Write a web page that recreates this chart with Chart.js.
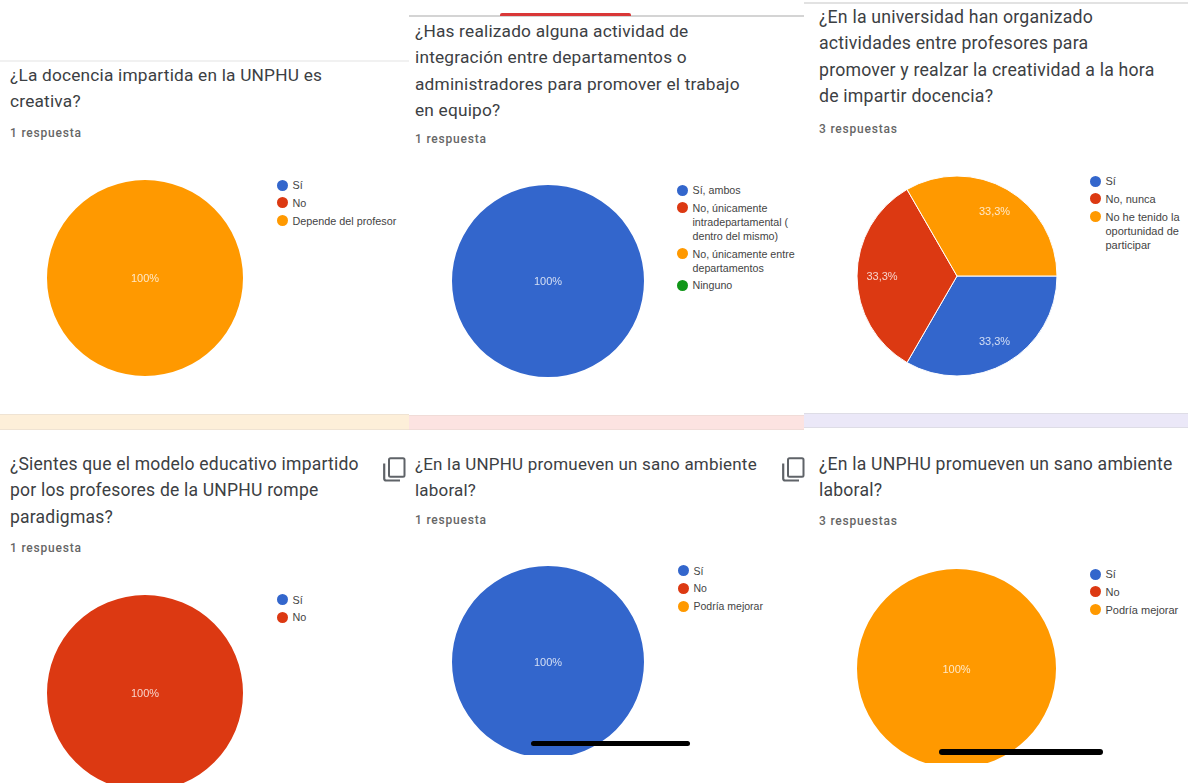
<!DOCTYPE html>
<html lang="es">
<head>
<meta charset="utf-8">
<title>Respuestas UNPHU</title>
<script src="https://cdn.jsdelivr.net/npm/chart.js@4"></script>
<style>
    html, body { margin: 0; padding: 0; background: #fff; overflow: hidden; }
    #page { position: relative; width: 1188px; height: 783px; overflow: hidden; background: #fff; }
    #page > * { position: absolute; }
    .titulo { font: 400 17.6px/26.3px Roboto, sans-serif; color: #3c4043; white-space: pre-line; letter-spacing: 0.2px; }
    .respuestas { font: 500 12px/16px Roboto, sans-serif; color: #666; letter-spacing: 0.8px; }
    .leyenda { font: 400 10.8px/14px "Liberation Sans", Arial, sans-serif; color: #444; }
    .leyenda div { position: relative; padding-left: 16px; margin-bottom: 3.8px; white-space: pre-line; }
    .leyenda i { position: absolute; left: 0; top: 1.5px; width: 11px; height: 11px; border-radius: 50%; }
    .pastel { overflow: hidden; }
    .pastel canvas { display: block; }
    .franja { box-sizing: border-box; border-top: 1px solid; border-bottom: 1px solid; }
    .barra { background: #000; border-radius: 3px; height: 5px; }
</style>
</head>
<body>
<div id="page"></div>
<script>
const azul = '#3366cc', rojo = '#dc3912', naranja = '#ff9900', verde = '#109618';

const preguntas = [
    '¿La docencia impartida en la UNPHU es\ncreativa?',
    '¿Has realizado alguna actividad de\nintegración entre departamentos o\nadministradores para promover el trabajo\nen equipo?',
    '¿En la universidad han organizado\nactividades entre profesores para\npromover y realzar la creatividad a la hora\nde impartir docencia?',
    '¿Sientes que el modelo educativo impartido\npor los profesores de la UNPHU rompe\nparadigmas?',
    '¿En la UNPHU promueven un sano ambiente\nlaboral?',
    '¿En la UNPHU promueven un sano ambiente\nlaboral?'
];
const respuestas = ['1 respuesta', '1 respuesta', '3 respuestas', '1 respuesta', '1 respuesta', '3 respuestas'];

const opciones = [
    ['Sí', 'No', 'Depende del profesor'],
    ['Sí, ambos', 'No, únicamente\nintradepartamental (\ndentro del mismo)', 'No, únicamente entre\ndepartamentos', 'Ninguno'],
    ['Sí', 'No, nunca', 'No he tenido la\noportunidad de\nparticipar'],
    ['Sí', 'No'],
    ['Sí', 'No', 'Podría mejorar'],
    ['Sí', 'No', 'Podría mejorar']
];
const valores = [
    [0, 0, 1],
    [1, 0, 0, 0],
    [1, 1, 1],
    [0, 1],
    [1, 0, 0],
    [0, 0, 1]
];
const colores = [azul, rojo, naranja, verde];

// posicion de cada bloque: texto, centro del pastel, radio, corte inferior y leyenda
const bloques = [
    { x: 10,  y: 62, ry: 125, fs: 17.3, cx: 145, cy: 278,   r: 98,  clip: 783, lx: 276.5, ly: 178, ls: 10.8 },
    { x: 415, y: 18, ry: 131, fs: 17.3, cx: 548, cy: 281,   r: 96,  clip: 783, lx: 676.5, ly: 183, ls: 10.7 },
    { x: 819, y: 4,  ry: 121, fs: 17.7, cx: 956.5, cy: 275.5, r: 100, clip: 783, lx: 1089.5, ly: 174, ls: 11 },
    { x: 10,  y: 451, ry: 540, fs: 17.55, cx: 145, cy: 693, r: 98,  clip: 783, lx: 276.5, ly: 592.5, ls: 10.8 },
    { x: 415, y: 451, ry: 512, fs: 17,  cx: 548, cy: 662,   r: 96,  clip: 755, lx: 677.5, ly: 563.5, ls: 10.5 },
    { x: 819, y: 451, ry: 513, fs: 17.6, cx: 956.5, cy: 668.5, r: 99.5, clip: 763, lx: 1089.5, ly: 567, ls: 11 }
];

const page = document.getElementById('page');

function caja(clase, css, texto) {
    const el = document.createElement('div');
    el.className = clase;
    Object.assign(el.style, css);
    if (texto) el.textContent = texto;
    page.appendChild(el);
    return el;
}

// lineas y franjas de las tarjetas del formulario
caja('', { left: '0', top: '60px', width: '409px', height: '2px', background: '#f1f1f1' });
caja('', { left: '409px', top: '15px', width: '395px', height: '2px', background: '#d4d4d4' });
caja('', { left: '500px', top: '13px', width: '131px', height: '3px', background: '#d93737', borderRadius: '2px 2px 0 0' });
caja('', { left: '804px', top: '2px', width: '384px', height: '2px', background: '#e2e2e2' });
caja('franja', { left: '0', top: '414px', width: '409px', height: '16px', background: '#fdefd9', borderColor: '#efe3d3' });
caja('franja', { left: '409px', top: '415px', width: '395px', height: '15px', background: '#fce3e1', borderColor: '#f0dcd8' });
caja('franja', { left: '804px', top: '413px', width: '384px', height: '15px', background: '#ebe8f8', borderColor: '#dedde6' });

// etiqueta de porcentaje dentro de cada porcion
const porcentajes = {
    id: 'porcentajes',
    afterDatasetsDraw(chart) {
        const { ctx } = chart;
        const datos = chart.data.datasets[0].data;
        const total = datos.reduce((a, b) => a + b, 0);
        ctx.save();
        ctx.font = '11px "Liberation Sans", Arial, sans-serif';
        ctx.fillStyle = 'rgba(255,255,255,0.78)';
        ctx.textAlign = 'center';
        ctx.textBaseline = 'middle';
        chart.getDatasetMeta(0).data.forEach((arco, i) => {
            if (!datos[i]) return;
            const { x, y, startAngle, endAngle, outerRadius } = arco.getProps(['x', 'y', 'startAngle', 'endAngle', 'outerRadius']);
            if (datos[i] === total) {
                ctx.fillText('100%', x, y + 1);
            } else {
                const medio = (startAngle + endAngle) / 2;
                const texto = (datos[i] / total * 100).toFixed(1).replace('.', ',') + '%';
                ctx.fillText(texto, x + Math.cos(medio) * outerRadius * 0.75, y + 1 + Math.sin(medio) * outerRadius * 0.75);
            }
        });
        ctx.restore();
    }
};

bloques.forEach((b, n) => {
    caja('titulo', { left: b.x + 'px', top: b.y + 'px', fontSize: b.fs + 'px' }, preguntas[n]);
    caja('respuestas', { left: b.x + 'px', top: b.ry + 'px' }, respuestas[n]);

    const leyenda = caja('leyenda', { left: b.lx + 'px', top: b.ly + 'px', width: '125px', fontSize: b.ls + 'px' });
    opciones[n].forEach((op, i) => {
        const fila = document.createElement('div');
        fila.textContent = op;
        const punto = document.createElement('i');
        punto.style.background = colores[i];
        fila.appendChild(punto);
        leyenda.appendChild(fila);
    });

    const lado = Math.ceil(b.r * 2) + 4;
    const izq = b.cx - lado / 2, arriba = b.cy - lado / 2;
    const marco = caja('pastel', { left: izq + 'px', top: arriba + 'px', width: lado + 'px', height: Math.min(lado, b.clip - arriba) + 'px' });
    const canvas = document.createElement('canvas');
    canvas.width = lado;
    canvas.height = lado;
    marco.appendChild(canvas);

    const varias = valores[n].filter(v => v > 0).length > 1;
    new Chart(canvas.getContext('2d'), {
        type: 'pie',
        data: {
            labels: opciones[n],
            datasets: [{
                data: valores[n],
                backgroundColor: colores.slice(0, valores[n].length),
                borderColor: '#fff',
                borderWidth: varias ? 1 : 0
            }]
        },
        options: {
            responsive: false,
            animation: false,
            radius: b.r,
            rotation: varias ? 90 : 0,
            plugins: { legend: { display: false }, tooltip: { enabled: false } }
        },
        plugins: [porcentajes]
    });
});

// icono de copiar entre columnas
[383, 782].forEach(x => {
    const icono = document.createElementNS('http://www.w3.org/2000/svg', 'svg');
    icono.setAttribute('width', '23');
    icono.setAttribute('height', '25');
    icono.setAttribute('viewBox', '0 0 23 25');
    icono.style.left = x + 'px';
    icono.style.top = '457px';
    icono.innerHTML = '<rect x="6" y="1.2" width="15.5" height="18.5" rx="1.5" fill="none" stroke="#5f6368" stroke-width="2"/>' +
        '<path d="M1.2 6.5V21.5a2 2 0 0 0 2 2H17" fill="none" stroke="#5f6368" stroke-width="2.2"/>';
    page.appendChild(icono);
});

// barras de inicio del telefono, por encima de los pasteles
caja('barra', { left: '531px', top: '741px', width: '159px' });
caja('barra', { left: '939px', top: '749px', width: '164px', height: '6px' });
</script>
</body>
</html>
